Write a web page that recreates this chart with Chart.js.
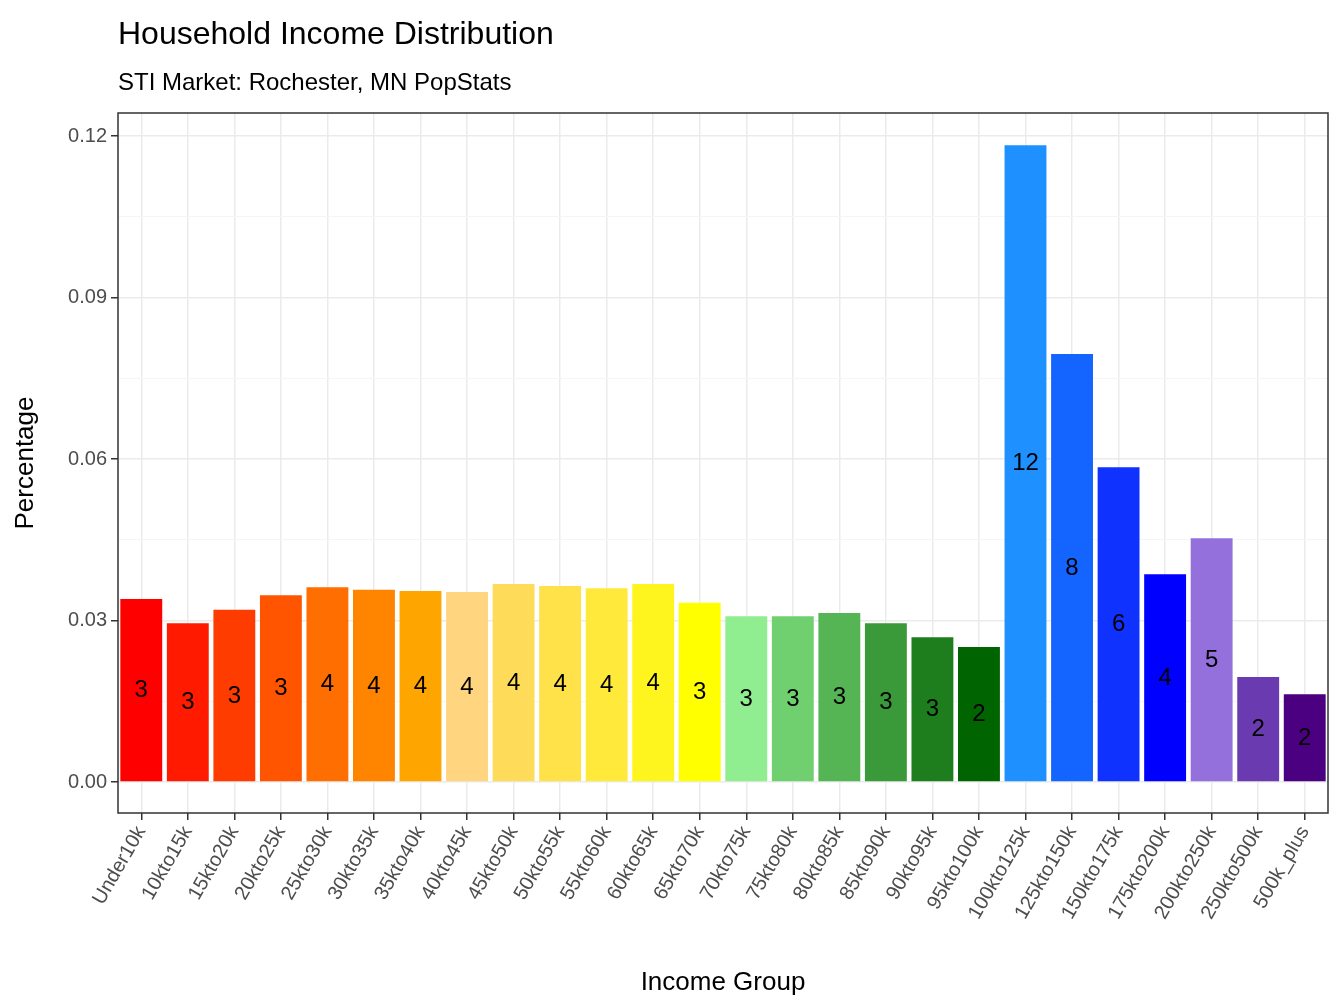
<!DOCTYPE html>
<html><head><meta charset="utf-8">
<script src="https://cdn.jsdelivr.net/npm/chart.js@4"></script>
<style>body{margin:0;background:#fff}canvas{display:block}</style>
</head><body>
<canvas id="c" width="1344" height="1008"></canvas>
<script>
const categories=["Under10k","10kto15k","15kto20k","20kto25k","25kto30k","30kto35k","35kto40k","40kto45k","45kto50k","50kto55k","55kto60k","60kto65k","65kto70k","70kto75k","75kto80k","80kto85k","85kto90k","90kto95k","95kto100k","100kto125k","125kto150k","150kto175k","175kto200k","200kto250k","250kto500k","500k_plus"];
const percentages=[0.0340,0.0295,0.0320,0.0347,0.0362,0.0357,0.0355,0.0353,0.0368,0.0364,0.0360,0.0368,0.0333,0.0308,0.0308,0.0314,0.0295,0.0269,0.0251,0.1183,0.0795,0.0585,0.0386,0.0453,0.0195,0.0163];
const barLabels=["3","3","3","3","4","4","4","4","4","4","4","4","3","3","3","3","3","3","2","12","8","6","4","5","2","2"];
const colors=["#FF0000","#FF1A00","#FF3C00","#FF5500","#FF6E00","#FF8400","#FFA500","#FFD580","#FFDB5A","#FFE14A","#FFEA3C","#FFF51E","#FFFF00","#90EE90","#70D070","#55B555","#3A9A3A","#1E7E1E","#006400","#1E90FF","#1464FF","#0F32FF","#0000FF","#9370DB","#6A3AB0","#4B0082"];
const yTicks=[0,0.015,0.03,0.045,0.06,0.075,0.09,0.105,0.12];
const F="Arial, 'Liberation Sans', sans-serif";
const deco={id:'deco',
 afterDatasetsDraw(ch){const c=ch.ctx,a=ch.chartArea,m=ch.getDatasetMeta(0),y=ch.scales.y;
  c.save();c.fillStyle='#000';c.font='24px '+F;c.textAlign='center';c.textBaseline='middle';
  m.data.forEach((b,i)=>{c.fillText(barLabels[i],b.x,y.getPixelForValue(percentages[i]/2));});
  c.strokeStyle='#333';c.lineWidth=1.5;c.strokeRect(a.left,a.top,a.right-a.left,a.bottom-a.top);
  c.textAlign='left';c.textBaseline='alphabetic';c.font='32px '+F;c.fillText('Household Income Distribution',a.left,44);
  c.font='24px '+F;c.fillText('STI Market: Rochester, MN PopStats',a.left,90);
  c.restore();}};
new Chart(document.getElementById('c'),{type:'bar',
 data:{labels:categories,datasets:[{data:percentages,backgroundColor:colors,categoryPercentage:1,barPercentage:0.9}]},
 options:{responsive:false,devicePixelRatio:1,animation:false,
  layout:{padding:{top:113,right:16,left:0,bottom:0}},
  plugins:{legend:{display:false},tooltip:{enabled:false}},
  scales:{
   x:{afterFit(s){s.height=195;},border:{display:false},
    grid:{color:'#EBEBEB',lineWidth:1.5,offset:false,drawTicks:true,tickColor:'#333',tickLength:7},
    ticks:{maxRotation:60,minRotation:60,color:'#4D4D4D',font:{size:20,family:F},autoSkip:false,padding:2},
    title:{display:true,text:'Income Group',color:'#000',font:{size:26,family:F},padding:{top:0,bottom:10}}},
   y:{min:-0.00576,max:0.1243,afterFit(s){s.width=118;},border:{display:false},
    afterBuildTicks(s){s.ticks=yTicks.map(v=>({value:v}));},
    grid:{color:c=>{const v=c.tick?c.tick.value:0;return Math.abs(Math.round(v/0.015))%2===0?'#EBEBEB':'#F5F5F5';},lineWidth:c=>{const v=c.tick?c.tick.value:0;return Math.abs(Math.round(v/0.015))%2===0?1.5:1;},
     tickColor:c=>{const v=c.tick?c.tick.value:0;return Math.abs(Math.round(v/0.015))%2===0?'#333':'rgba(0,0,0,0)';},tickLength:7},
    ticks:{color:'#4D4D4D',font:{size:20,family:F},padding:4,callback:v=>Math.abs(Math.round(v/0.015))%2===0?v.toFixed(2):''},
    title:{display:true,text:'Percentage',color:'#000',font:{size:26,family:F},padding:{top:10,bottom:0}}}}},
 plugins:[deco]});
</script></body></html>
